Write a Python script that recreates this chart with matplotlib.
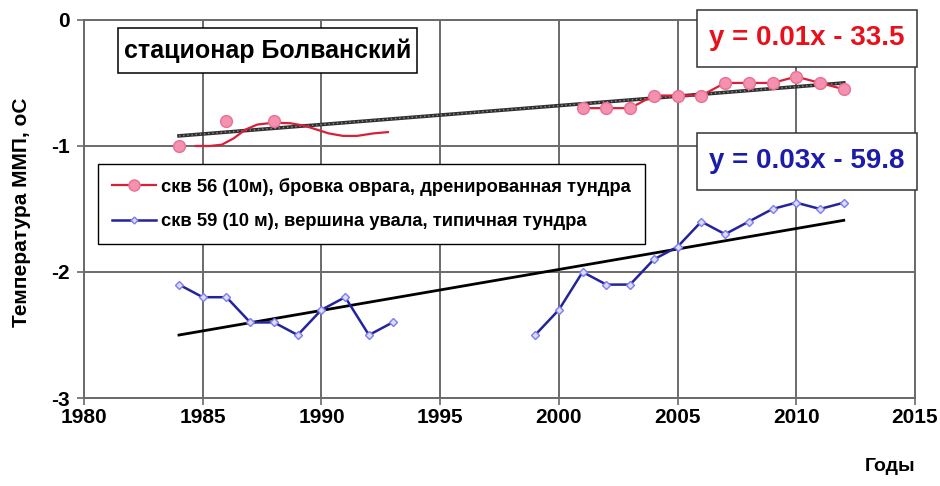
import matplotlib
matplotlib.use("Agg")
from matplotlib import pyplot as plt
from matplotlib.patches import Rectangle
from matplotlib.lines import Line2D

plt.rcParams["font.family"] = ["Liberation Sans", "DejaVu Sans"]
plt.rcParams["font.weight"] = "bold"
plt.rcParams["axes.unicode_minus"] = False

# скв 56 (10м) - measured points
years_56 = [1984, 1986, 1988, 2001, 2002, 2003, 2004, 2005, 2006, 2007, 2008, 2009, 2010, 2011, 2012]
temp_56 = [-1.0, -0.8, -0.8, -0.7, -0.7, -0.7, -0.6, -0.6, -0.6, -0.5, -0.5, -0.5, -0.45, -0.5, -0.55]

# скв 56 - smoothed curve over the early years
curve_years_56 = [1984.7, 1985.3, 1985.8, 1986.3, 1986.8, 1987.3, 1988.0, 1988.7, 1989.3, 1989.8, 1990.3, 1990.9, 1991.5, 1992.2, 1992.8]
curve_temp_56 = [-1.0, -1.0, -0.99, -0.94, -0.87, -0.83, -0.815, -0.82, -0.84, -0.87, -0.9, -0.92, -0.92, -0.9, -0.89]

# скв 59 (10 м)
years_59 = [1984, 1985, 1986, 1987, 1988, 1989, 1990, 1991, 1992, 1993, None,
            1999, 2000, 2001, 2002, 2003, 2004, 2005, 2006, 2007, 2008, 2009, 2010, 2011, 2012]
temp_59 = [-2.1, -2.2, -2.2, -2.4, -2.4, -2.5, -2.3, -2.2, -2.5, -2.4, None,
           -2.5, -2.3, -2.0, -2.1, -2.1, -1.9, -1.8, -1.6, -1.7, -1.6, -1.5, -1.45, -1.5, -1.45]

# linear trends (end points)
trend_years = [1984, 2012]
trend_56 = [-0.92, -0.50]
trend_59 = [-2.50, -1.59]

eq_56 = "y = 0.01x - 33.5"
eq_59 = "y = 0.03x - 59.8"
label_56 = "скв 56 (10м), бровка оврага, дренированная тундра"
label_59 = "скв 59 (10 м), вершина увала, типичная тундра"

red = "#d8203a"
pink = "#f490b0"
navy = "#24249a"
grid_c = "#6a6a6a"

fig = plt.figure(figsize=(9.4, 4.86), dpi=100)
ax = fig.add_axes([0.0894, 0.181, 0.884, 0.778])

ax.set_xlim(1980, 2015)
ax.set_ylim(-3, 0)
ax.set_xticks(range(1980, 2016, 5))
ax.set_yticks([-3, -2, -1, 0])
ax.grid(True, color=grid_c, lw=1.4)
ax.set_axisbelow(True)
for s in ax.spines.values():
    s.set_color(grid_c)
    s.set_linewidth(1.4)
ax.tick_params(direction="out", length=5, width=1.2, color=grid_c, labelsize=15)
ax.tick_params(axis="x", pad=2)
ax.tick_params(axis="y", pad=5)

# trend lines
ax.plot(trend_years, trend_59, color="black", lw=2, zorder=3)
ax.plot(trend_years, trend_56, color="#303030", lw=2.6, zorder=3)
ax.plot(trend_years, trend_56, color="#909090", lw=1, ls=(0, (1, 2)), zorder=3)

# series
ax.plot(curve_years_56, curve_temp_56, color=red, lw=1.6, zorder=4)
ax.plot(years_56[3:], temp_56[3:], color=red, lw=1.6, zorder=4)
ax.plot(years_56, temp_56, ls="none", marker="o", ms=8.5, mfc=pink, mec="#e87090", mew=1, zorder=5)
ax.plot(years_59, temp_59, color=navy, lw=1.8, marker="D", ms=4, mfc="#dcdcff", mec="#7c7cf0", mew=1, zorder=4)

# legend
handles = [
    Line2D([], [], color=red, lw=1.6, marker="o", ms=8, mfc=pink, mec="#e87090"),
    Line2D([], [], color=navy, lw=1.8, marker="D", ms=3.5, mfc="#dcdcff", mec="#7c7cf0"),
]
leg = ax.legend(handles, [label_56, label_59], loc="upper left", bbox_to_anchor=(0.0168, 0.619),
                borderaxespad=0, fancybox=False, framealpha=1, edgecolor="black",
                prop={"size": 13.2, "weight": "bold"}, handlelength=2.4, handletextpad=0.3,
                labelspacing=0.95, borderpad=0.75)
leg.get_frame().set_linewidth(1.0)
leg.set_zorder(6)

# caption box
ax.add_patch(Rectangle((0.0409, 0.8598), 0.3598, 0.119, transform=ax.transAxes,
                       facecolor="white", edgecolor="black", lw=1.1, zorder=6, clip_on=False))
ax.text(0.2208, 0.919, "стационар Болванский", transform=ax.transAxes, ha="center", va="center",
        fontsize=18, fontweight="bold", zorder=7)

# trend equations
for y0, yc, txt, col in [(0.8757, 0.951, eq_56, "#e8101a"), (0.5503, 0.6257, eq_59, "#1c1caa")]:
    ax.add_patch(Rectangle((0.7377, y0), 0.2647, 0.1508, transform=ax.transAxes,
                           facecolor="white", edgecolor="#333333", lw=1.1, zorder=6, clip_on=False))
    ax.text(0.870, yc, txt, transform=ax.transAxes, ha="center", va="center", color=col,
            fontsize=20, fontweight="bold", zorder=7, clip_on=False)

fig.text(0.023, 0.564, "Температура ММП, оС", rotation=90, ha="center", va="center",
         fontsize=15, fontweight="bold")
fig.text(0.947, 0.041, "Годы", ha="center", va="center", fontsize=14, fontweight="bold")

fig.savefig("out.png", dpi=100, facecolor="white")
